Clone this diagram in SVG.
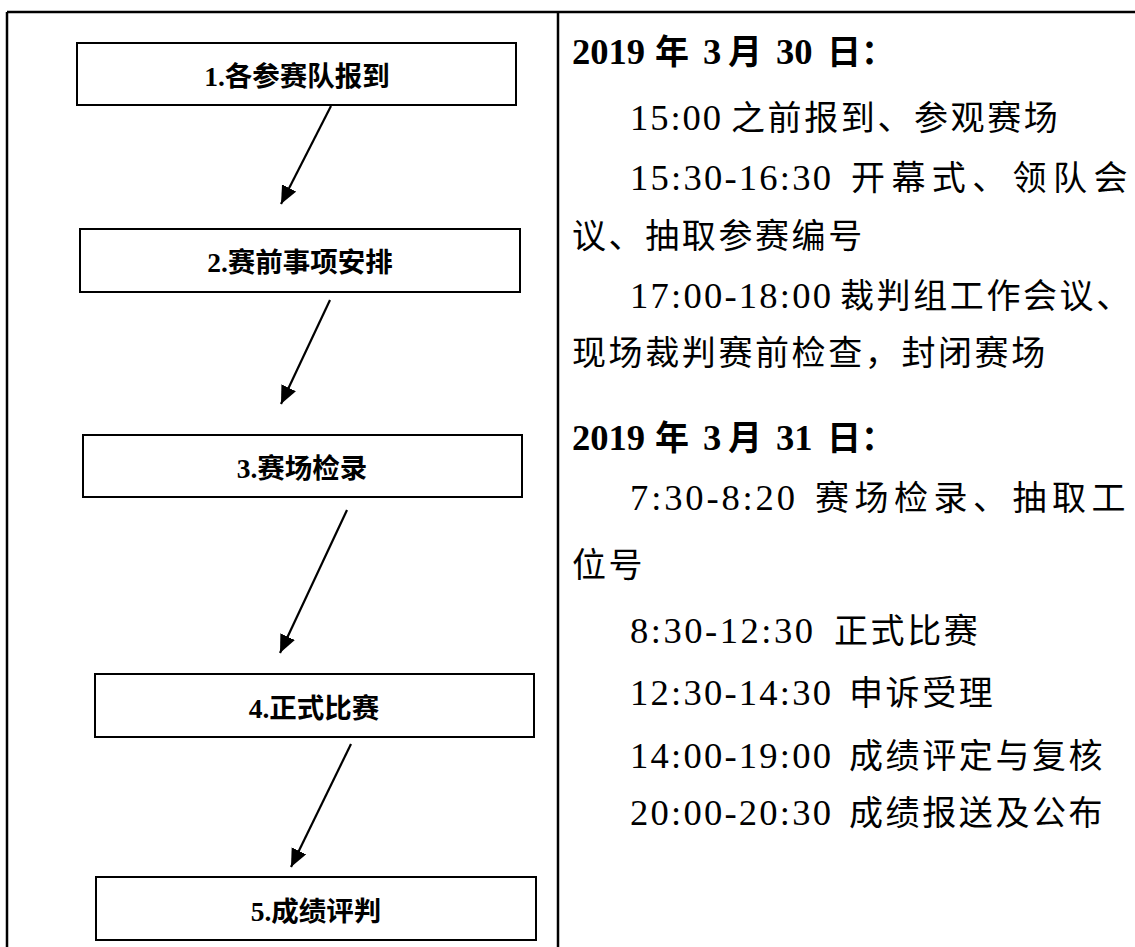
<svg xmlns="http://www.w3.org/2000/svg" width="1135" height="947" viewBox="0 0 1135 947">
<style>
.frame{stroke:#000;stroke-width:2.5;fill:none}
.box{fill:#fff;stroke:#000;stroke-width:2}
.bt{font-family:"Liberation Serif","Noto Sans CJK SC",serif;font-weight:bold;font-size:27.5px;text-anchor:middle;fill:#000}
.conn line{stroke:#000;stroke-width:2.2}
.hd{font-family:"Liberation Serif","Noto Sans CJK SC",serif;font-weight:bold;font-size:36.6px;fill:#000}
.hdc{font-family:"Noto Sans CJK SC",sans-serif;font-weight:bold;font-size:34px}
.tx{font-family:"Noto Sans CJK SC",sans-serif;font-size:34px;letter-spacing:2.6px;fill:#000}
.n{font-family:"Liberation Serif",serif;font-size:36.6px;letter-spacing:0}
</style>
<defs>
<marker id="ah" markerUnits="userSpaceOnUse" markerWidth="20" markerHeight="18" refX="18" refY="8" orient="auto">
<path d="M0,0 L18,8 L0,16 z" fill="#000"/>
</marker>
</defs>
<g id="frame">
<line class="frame" x1="7" y1="12" x2="1135" y2="12"/>
<line class="frame" x1="7" y1="12" x2="7" y2="947"/>
<line class="frame" x1="558" y1="12" x2="558" y2="947"/>
</g>
<g id="node1"><rect class="box" x="77" y="43" width="439" height="62"/><text class="bt" x="297" y="86">1.各参赛队报到</text></g>
<g id="node2"><rect class="box" x="80" y="229" width="440" height="63"/><text class="bt" x="300" y="272">2.赛前事项安排</text></g>
<g id="node3"><rect class="box" x="83" y="435" width="439" height="62"/><text class="bt" x="302" y="478">3.赛场检录</text></g>
<g id="node4"><rect class="box" x="95" y="674" width="439" height="63"/><text class="bt" x="314" y="718">4.正式比赛</text></g>
<g id="node5"><rect class="box" x="96" y="877" width="440" height="63"/><text class="bt" x="316" y="921">5.成绩评判</text></g>
<g id="connectors" class="conn">
<line x1="331" y1="106" x2="281" y2="204" marker-end="url(#ah)"/>
<line x1="330" y1="300" x2="281" y2="404" marker-end="url(#ah)"/>
<line x1="347" y1="510" x2="280" y2="653" marker-end="url(#ah)"/>
<line x1="351" y1="744" x2="291" y2="867" marker-end="url(#ah)"/>
</g>
<g id="schedule">
<text class="hd" y="64"><tspan x="572">2019</tspan><tspan class="hdc" x="655">年</tspan><tspan x="703">3</tspan><tspan class="hdc" x="728">月</tspan><tspan x="776">30</tspan><tspan class="hdc" x="827">日：</tspan></text>
<text class="tx" y="130"><tspan class="n" x="630" textLength="91" lengthAdjust="spacing">15:00</tspan><tspan x="731">之前报到、参观赛场</tspan></text>
<text class="tx" y="190"><tspan class="n" x="630" textLength="201" lengthAdjust="spacing">15:30-16:30</tspan><tspan x="851" textLength="279" lengthAdjust="spacing">开幕式、领队会</tspan></text>
<text class="tx" y="248"><tspan x="572">议、抽取参赛编号</tspan></text>
<text class="tx" y="308"><tspan class="n" x="630" textLength="201" lengthAdjust="spacing">17:00-18:00</tspan><tspan x="840">裁判组工作会议、</tspan></text>
<text class="tx" y="365"><tspan x="572">现场裁判赛前检查，封闭赛场</tspan></text>
<text class="hd" y="450"><tspan x="572">2019</tspan><tspan class="hdc" x="655">年</tspan><tspan x="703">3</tspan><tspan class="hdc" x="728">月</tspan><tspan x="776">31</tspan><tspan class="hdc" x="827">日：</tspan></text>
<text class="tx" y="510"><tspan class="n" x="630" textLength="165" lengthAdjust="spacing">7:30-8:20</tspan><tspan x="815" textLength="313" lengthAdjust="spacing">赛场检录、抽取工</tspan></text>
<text class="tx" y="577"><tspan x="572">位号</tspan></text>
<text class="tx" y="643"><tspan class="n" x="630" textLength="183" lengthAdjust="spacing">8:30-12:30</tspan><tspan x="834">正式比赛</tspan></text>
<text class="tx" y="705"><tspan class="n" x="630" textLength="201" lengthAdjust="spacing">12:30-14:30</tspan><tspan x="849">申诉受理</tspan></text>
<text class="tx" y="768"><tspan class="n" x="630" textLength="201" lengthAdjust="spacing">14:00-19:00</tspan><tspan x="849">成绩评定与复核</tspan></text>
<text class="tx" y="825"><tspan class="n" x="630" textLength="201" lengthAdjust="spacing">20:00-20:30</tspan><tspan x="849">成绩报送及公布</tspan></text>
</g>
</svg>
